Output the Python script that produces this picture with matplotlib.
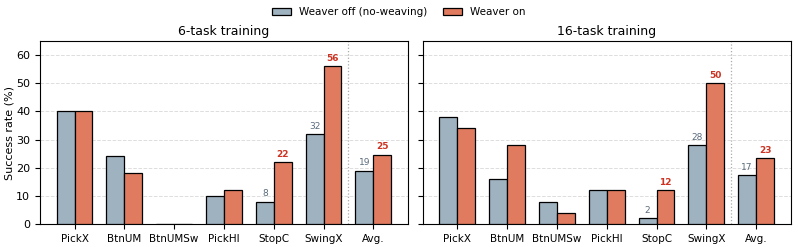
import numpy as np
import matplotlib
matplotlib.use('Agg')
import matplotlib.pyplot as plt

tasks = ['PickX', 'BtnUM', 'BtnUMSw', 'PickHl', 'StopC', 'SwingX']
panel_titles = ['6-task training', '16-task training']

off_6 = [40, 24, 0, 10, 8, 32]
on_6 = [40, 18, 0, 12, 22, 56]
off_16 = [38, 16, 8, 12, 2, 28]
on_16 = [34, 28, 4, 12, 12, 50]

labelled = ['StopC', 'SwingX', 'Avg.']

c_off = '#9eb2bf'
c_on = '#e07b5f'

fig, axes = plt.subplots(1, 2, figsize=(7.98, 2.47), dpi=100, sharey=True)
fig.subplots_adjust(left=0.05, right=0.991, top=0.834, bottom=0.093, wspace=0.04)

cats = tasks + ['Avg.']
x = np.arange(len(cats))
w = 0.36

for ax, title, off, on in zip(axes, panel_titles, [off_6, off_16], [on_6, on_16]):
    off_v = off + [np.mean(off)]
    on_v = on + [np.mean(on)]
    ax.bar(x - w / 2, off_v, w, color=c_off, edgecolor='black', linewidth=0.9,
           label='Weaver off (no-weaving)', zorder=3)
    ax.bar(x + w / 2, on_v, w, color=c_on, edgecolor='black', linewidth=0.9,
           label='Weaver on', zorder=3)
    for i, c in enumerate(cats):
        if c in labelled:
            ax.text(x[i] - w / 2, off_v[i] + 1.2, f'{off_v[i]:.0f}', ha='center', va='bottom',
                    fontsize=6.5, color='#5b6b7c')
            ax.text(x[i] + w / 2, on_v[i] + 1.2, f'{on_v[i]:.0f}', ha='center', va='bottom',
                    fontsize=6.5, color='#cc3322', fontweight='bold')
    ax.axvline(5.5, color='#aaaaaa', linestyle=':', linewidth=0.9, zorder=1)
    ax.set_xticks(x)
    ax.set_xticklabels(cats, fontsize=7.5)
    ax.set_ylim(0, 65)
    ax.set_yticks(range(0, 61, 10))
    ax.tick_params(axis='y', labelsize=8)
    ax.grid(axis='y', linestyle='--', color='#dddddd', linewidth=0.7, zorder=0)
    ax.set_title(title, fontsize=9, pad=4)

axes[0].set_ylabel('Success rate (%)', fontsize=8, labelpad=1)

handles, labels = axes[0].get_legend_handles_labels()
fig.legend(handles, labels, loc='upper center', ncol=2, frameon=False, fontsize=7.5,
           bbox_to_anchor=(0.5, 1.01), handlelength=1.8, columnspacing=1.5)

fig.savefig('out.png', dpi=100)
